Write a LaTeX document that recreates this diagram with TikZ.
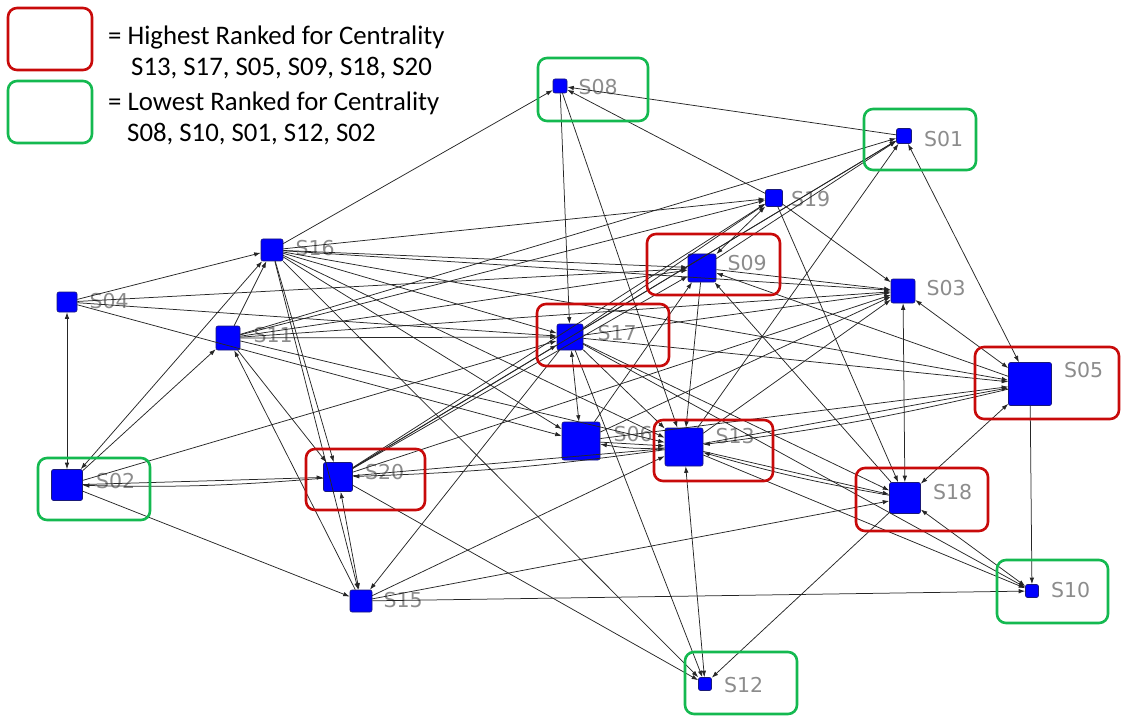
\documentclass[tikz,border=0pt]{standalone}
\usepackage{fontspec}
\usetikzlibrary{arrows.meta,positioning}
\newfontfamily\legendfont{Carlito}
\newfontfamily\tagfont{DejaVu Sans}
\definecolor{hired}{RGB}{200,10,10}
\definecolor{logreen}{RGB}{20,185,80}
\definecolor{taggray}{RGB}{140,140,140}
\definecolor{vtxblue}{RGB}{0,0,255}
\definecolor{vtxedge}{RGB}{25,25,120}

\begin{document}
\begin{tikzpicture}[x=1pt,y=-1pt,
  vtx/.style={draw=vtxedge,fill=vtxblue,line width=0.6pt,rounded corners=2pt,inner sep=0pt},
  tag/.style={text=taggray,font=\tagfont\fontsize{20.5}{20.5}\selectfont,inner sep=0pt,text height=15pt,text depth=0pt},
  link/.style={black!85,line width=0.75pt,-{Latex[length=6.5pt,width=4.5pt]}},
  blink/.style={black!85,line width=0.75pt,{Latex[length=6.5pt,width=4.5pt]}-{Latex[length=6.5pt,width=4.5pt]}},
  hibox/.style={draw=hired,line width=2.6pt,rounded corners=9pt},
  lobox/.style={draw=logreen,line width=2.6pt,rounded corners=9pt},
  key/.style={font=\legendfont\fontsize{26.8}{26.8}\selectfont,anchor=base west,inner sep=0pt}]
\useasboundingbox (0,0) rectangle (1121,719);
\node[vtx,minimum size=14pt] (s08) at (560,86) {};
\node[vtx,minimum size=15pt] (s01) at (904,136) {};
\node[vtx,minimum size=17pt] (s19) at (774,198) {};
\node[vtx,minimum size=28pt] (s09) at (702,268) {};
\node[vtx,minimum size=24pt] (s03) at (903,291) {};
\node[vtx,minimum size=22pt] (s16) at (272,250) {};
\node[vtx,minimum size=20pt] (s04) at (67,302) {};
\node[vtx,minimum size=24pt] (s11) at (228,338) {};
\node[vtx,minimum size=26pt] (s17) at (570,337) {};
\node[vtx,minimum size=43pt] (s05) at (1030,384) {};
\node[vtx,minimum size=38pt] (s06) at (581,441) {};
\node[vtx,minimum size=38pt] (s13) at (684,447) {};
\node[vtx,minimum size=31pt] (s02) at (67,485) {};
\node[vtx,minimum size=29pt] (s20) at (338,477) {};
\node[vtx,minimum size=31pt] (s18) at (905,498) {};
\node[vtx,minimum size=22pt] (s15) at (361,601) {};
\node[vtx,minimum size=13pt] (s10) at (1032,591) {};
\node[vtx,minimum size=13pt] (s12) at (705,684) {};
\node[tag,below right=1pt and 11pt of s08.north east] (t08) {S08};
\node[tag,below right=3pt and 12pt of s01.north east] (t01) {S01};
\node[tag,below right=2pt and 8pt of s19.north east] (t19) {S19};
\node[tag,below right=2pt and 11pt of s09.north east] (t09) {S09};
\node[tag,below right=2pt and 11pt of s03.north east] (t03) {S03};
\node[tag,below right=2pt and 12pt of s16.north east] (t16) {S16};
\node[tag,below right=2pt and 12pt of s04.north east] (t04) {S04};
\node[tag,below right=2pt and 13pt of s11.north east] (t11) {S11};
\node[tag,below right=2pt and 14pt of s17.north east] (t17) {S17};
\node[tag,below right=0pt and 12pt of s05.north east] (t05) {S05};
\node[tag,below right=5pt and 13pt of s06.north east] (t06) {S06};
\node[tag,below right=1pt and 12pt of s13.north east] (t13) {S13};
\node[tag,below right=4pt and 13pt of s02.north east] (t02) {S02};
\node[tag,below right=2pt and 12pt of s20.north east] (t20) {S20};
\node[tag,below right=2pt and 12pt of s18.north east] (t18) {S18};
\node[tag,below right=3pt and 11pt of s15.north east] (t15) {S15};
\node[tag,below right=-2pt and 12pt of s10.north east] (t10) {S10};
\node[tag,below right=0pt and 12pt of s12.north east] (t12) {S12};
\draw[link] (s16) -- (s08);
\draw[link] (s01) -- (s08);
\draw[link] (s19) -- (s08);
\draw[link] (s08) -- (s17);
\draw[link] (s08) -- (s13);
\draw[blink] (s01) -- (s05);
\draw[link] (s13) -- (s01);
\draw[link] (s11) -- (s01);
\draw[link] (s09) -- (s01);
\draw[link] (s17) -- (s01);
\draw[link] (s20) -- (s01);
\draw[link] (s04) -- (s16);
\draw[blink] (s02) -- (s16);
\draw[link] (s02) -- (s11);
\draw[link] (s11) -- (s16);
\draw[link] (s16) -- (s20);
\draw[link] (s16) -- (s19);
\draw[link] (s16) -- (s09);
\draw[link] (s16) -- (s17);
\draw[link] (s16) -- (s13);
\draw[link] (s16) -- (s06);
\draw[link] (s16) -- (s12);
\draw[link] (s16) -- (s15);
\draw[link] (s16) -- (s05);
\draw[link] (s16) -- (s03);
\draw[blink] (s04) -- (s02);
\draw[link] (s04) -- (s09);
\draw[link] (s04) -- (s17);
\draw[link] (s04) -- (s06);
\draw[link] (s11) -- (s13);
\draw[link] (s11) -- (s17);
\draw[link] (s11) -- (s19);
\draw[link] (s11) -- (s09);
\draw[link] (s11) -- (s03);
\draw[link] (s11) -- (s20);
\draw[link] (s15) -- (s11);
\draw[link] (s02) -- (s15);
\draw[link] (s02) -- (s20);
\draw[link] (s20) to[bend left=3] (s02);
\draw[link] (s02) -- (s17);
\draw[link] (s20) -- (s17);
\draw[link] (s20) -- (s09);
\draw[link] (s20) -- (s19);
\draw[link] (s20) -- (s03);
\draw[link] (s20) -- (s13);
\draw[link] (s13) to[bend left=3] (s20);
\draw[link] (s20) -- (s12);
\draw[blink] (s15) -- (s20);
\draw[blink] (s17) -- (s06);
\draw[link] (s06) -- (s13);
\draw[link] (s13) to[bend left=6] (s06);
\draw[link] (s06) -- (s09);
\draw[link] (s06) -- (s03);
\draw[link] (s06) -- (s05);
\draw[link] (s09) -- (s13);
\draw[link] (s13) -- (s03);
\draw[link] (s13) -- (s05);
\draw[link] (s05) to[bend left=3] (s13);
\draw[link] (s13) -- (s18);
\draw[link] (s18) to[bend left=3] (s13);
\draw[link] (s13) -- (s10);
\draw[blink] (s13) -- (s12);
\draw[link] (s15) -- (s13);
\draw[link] (s17) -- (s13);
\draw[link] (s17) -- (s05);
\draw[link] (s17) -- (s03);
\draw[link] (s17) -- (s18);
\draw[link] (s17) -- (s19);
\draw[link] (s17) -- (s12);
\draw[link] (s17) -- (s15);
\draw[link] (s17) -- (s10);
\draw[link] (s09) -- (s03);
\draw[link] (s18) -- (s09);
\draw[link] (s05) -- (s09);
\draw[blink] (s09) -- (s19);
\draw[link] (s19) -- (s03);
\draw[link] (s19) -- (s18);
\draw[blink] (s05) -- (s03);
\draw[blink] (s03) -- (s18);
\draw[blink] (s05) -- (s18);
\draw[link] (s05) -- (s10);
\draw[blink] (s18) -- (s10);
\draw[link] (s15) -- (s18);
\draw[link] (s15) -- (s10);
\draw[link] (s18) -- (s12);
\draw[lobox] (538,58) rectangle (648,121);
\draw[lobox] (864,109) rectangle (976,170);
\draw[lobox] (38,458) rectangle (150,520);
\draw[lobox] (997,560) rectangle (1108,623);
\draw[lobox] (685,652) rectangle (797,714);
\draw[hibox] (647,234) rectangle (780,295);
\draw[hibox] (537,304) rectangle (669,366);
\draw[hibox] (654,420) rectangle (773,481);
\draw[hibox] (975,347) rectangle (1119,419);
\draw[hibox] (856,468) rectangle (988,531);
\draw[hibox] (306,449) rectangle (425,510);
\draw[hibox] (8,8) rectangle (92,70);
\draw[lobox] (8,81) rectangle (92,143);
\node[key] (k1) at (108,45) {= Highest Ranked for Centrality};
\node[key] (k2) at (131,76) {S13, S17, S05, S09, S18, S20};
\node[key] (k3) at (108,111) {= Lowest Ranked for Centrality};
\node[key] (k4) at (127,142) {S08, S10, S01, S12, S02};
\end{tikzpicture}
\end{document}
